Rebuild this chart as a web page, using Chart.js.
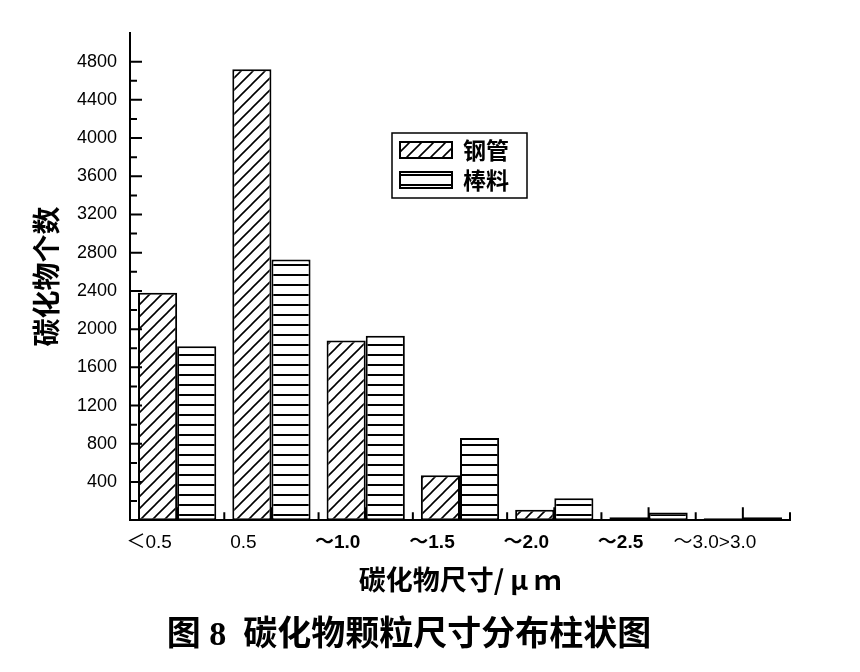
<!DOCTYPE html>
<html>
<head>
<meta charset="utf-8">
<script src="https://cdn.jsdelivr.net/npm/chart.js@4.4.1/dist/chart.umd.min.js"></script>
<style>
  html, body { margin: 0; padding: 0; background: #fff; }
</style>
</head>
<body>
<canvas id="carbideChart" width="860" height="672"></canvas>
<script>
// carbide size classes (μm) and counts
const sizeLabels = ['＜0.5', '0.5', '～1.0', '～1.5', '～2.0', '～2.5', '～3.0>3.0'];
const seriesNames = ['钢管', '棒料'];
const pipeCounts = [2380, 4720, 1880, 470, 110, 30, 20];
const rodCounts  = [1820, 2730, 1930, 860, 230, 80, 30];
const yMax = 5100;
const yStep = 200;       // minor tick spacing
const yLabelStep = 400;  // labelled ticks
const yLabelMax = 4800;

const CJK = '"Noto Sans CJK SC", "Liberation Sans", sans-serif';
const LATIN = '"Liberation Sans", "Noto Sans CJK SC", sans-serif';

// white tiles with black hatching, used as bar fills
function makeHatch(kind) {
  const c = document.createElement('canvas');
  const s = kind === 'diag' ? 12 : 10;
  c.width = s; c.height = s;
  const g = c.getContext('2d');
  g.fillStyle = '#fff';
  g.fillRect(0, 0, s, s);
  g.strokeStyle = '#000';
  g.beginPath();
  if (kind === 'diag') {
    g.lineWidth = 1.6;
    g.moveTo(-1, s + 1); g.lineTo(s + 1, -1);
    g.moveTo(-1, 1); g.lineTo(1, -1);
    g.moveTo(s - 1, s + 1); g.lineTo(s + 1, s - 1);
  } else {
    g.lineWidth = 2;
    g.moveTo(0, s / 2); g.lineTo(s, s / 2);
  }
  g.stroke();
  return g.createPattern(c, 'repeat');
}

// inward tick marks, like the original plot
const axisTicks = {
  id: 'axisTicks',
  beforeDatasetsDraw(chart) {
    const {ctx, chartArea, scales: {x}} = chart;
    ctx.save();
    ctx.strokeStyle = '#000';
    ctx.lineWidth = 2;
    ctx.beginPath();
    for (let i = 0; i < sizeLabels.length; i++) {
      const cx = x.getPixelForValue(i);
      ctx.moveTo(cx, chartArea.bottom);
      ctx.lineTo(cx, chartArea.bottom - 13);
    }
    for (let i = 1; i <= sizeLabels.length; i++) {
      const bx = x.getPixelForValue(i - 0.5);
      ctx.moveTo(bx, chartArea.bottom);
      ctx.lineTo(bx, chartArea.bottom - 8);
    }
    ctx.stroke();
    ctx.restore();
  },
  afterDatasetsDraw(chart) {
    const {ctx, chartArea, scales: {y}} = chart;
    ctx.save();
    ctx.strokeStyle = '#000';
    ctx.lineWidth = 2;
    ctx.beginPath();
    y.ticks.forEach(t => {
      if (t.value === 0 || t.value % yStep !== 0) return;
      const py = y.getPixelForValue(t.value);
      const len = t.value % yLabelStep === 0 ? 12 : 7;
      ctx.moveTo(chartArea.left, py);
      ctx.lineTo(chartArea.left + len, py);
    });
    ctx.stroke();
    ctx.restore();
  }
};

// boxed legend sitting inside the plot area
const boxLegend = {
  id: 'boxLegend',
  afterDraw(chart, args, opts) {
    const {ctx, chartArea} = chart;
    const left = chartArea.left + opts.dx;
    const top = chartArea.top + opts.dy;
    ctx.save();
    ctx.strokeStyle = '#000';
    ctx.lineWidth = 1.5;
    ctx.strokeRect(left, top, opts.w, opts.h);
    chart.data.datasets.forEach((ds, i) => {
      const sy = top + 9 + i * 30;
      ctx.fillStyle = ds.backgroundColor;
      ctx.fillRect(left + 8, sy, 52, 16);
      ctx.lineWidth = 2;
      ctx.strokeRect(left + 8, sy, 52, 16);
      ctx.fillStyle = '#000';
      ctx.font = 'bold 23px ' + CJK;
      ctx.textBaseline = 'middle';
      ctx.fillText(ds.label, left + 71, sy + 8);
    });
    ctx.restore();
  }
};

const ctx = document.getElementById('carbideChart').getContext('2d');

new Chart(ctx, {
  type: 'bar',
  data: {
    labels: sizeLabels,
    datasets: [
      {
        label: seriesNames[0],
        data: pipeCounts,
        backgroundColor: makeHatch('diag'),
        borderColor: '#000',
        borderWidth: 2,
        borderSkipped: false
      },
      {
        label: seriesNames[1],
        data: rodCounts,
        backgroundColor: makeHatch('horiz'),
        borderColor: '#000',
        borderWidth: 2,
        borderSkipped: false
      }
    ]
  },
  options: {
    responsive: false,
    animation: false,
    events: [],
    layout: { padding: { left: 28, right: 70, top: 33, bottom: 0 } },
    datasets: { bar: { categoryPercentage: 0.83, barPercentage: 1.0 } },
    scales: {
      x: {
        grid: { display: false, drawTicks: false },
        border: { color: '#000', width: 2, z: 1 },
        ticks: {
          color: '#000',
          padding: 11,
          labelOffset: -28,
          maxRotation: 0,
          autoSkip: false,
          font: (c) => ({
            family: LATIN,
            size: 19,
            weight: (c.index >= 2 && c.index <= 5) ? 'bold' : 'normal'
          })
        },
        title: {
          display: true,
          text: '碳化物尺寸/ μ ｍ',
          color: '#000',
          font: { family: CJK, size: 27, weight: 'bold' },
          padding: { top: 0, bottom: 0 }
        },
        afterFit: (s) => { s.height = 76; }
      },
      y: {
        min: 0,
        max: yMax,
        grid: { display: false, drawTicks: false },
        border: { color: '#000', width: 2, z: 1 },
        ticks: {
          stepSize: yStep,
          autoSkip: false,
          padding: 13,
          color: '#000',
          font: { family: LATIN, size: 18 },
          callback: (v) => (v > 0 && v <= yLabelMax && v % yLabelStep === 0) ? v : ''
        },
        title: {
          display: true,
          text: '碳化物个数',
          color: '#000',
          font: { family: CJK, size: 28, weight: 'bold' },
          padding: { top: 2, bottom: 0 }
        },
        afterFit: (s) => { s.width = 102; }
      }
    },
    plugins: {
      legend: { display: false },
      tooltip: { enabled: false },
      title: {
        display: true,
        position: 'bottom',
        text: '图 8  碳化物颗粒尺寸分布柱状图',
        color: '#000',
        font: { family: '"Liberation Serif", "Noto Sans CJK SC", serif', size: 34, weight: 'bold' },
        padding: { top: 20, bottom: 15 }
      },
      boxLegend: { dx: 262, dy: 100, w: 135, h: 65 }
    }
  },
  plugins: [axisTicks, boxLegend]
});
</script>
</body>
</html>
